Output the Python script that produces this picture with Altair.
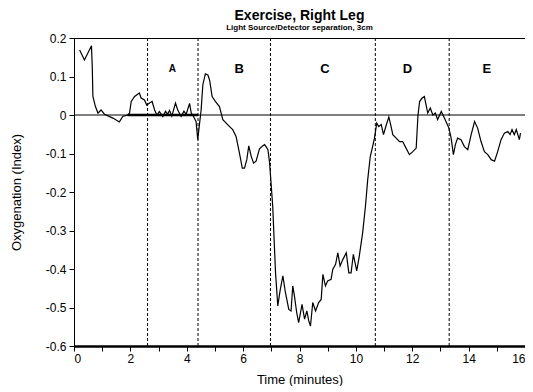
import altair as alt
import pandas as pd

time_min = [0.2, 0.37, 0.62, 0.65, 0.67, 0.76, 0.85, 0.96, 1.08, 1.38, 1.61, 1.73, 1.91, 1.97,
            2.03, 2.15, 2.32, 2.38, 2.50, 2.58, 2.68, 2.77, 2.86, 2.94, 3.03, 3.15, 3.25, 3.32,
            3.39, 3.47, 3.60, 3.68, 3.80, 3.90, 3.98, 4.10, 4.16, 4.21, 4.33, 4.39, 4.45, 4.51,
            4.57, 4.66, 4.75, 4.81, 4.90, 5.02, 5.16, 5.22, 5.28, 5.40, 5.52, 5.63, 5.75, 5.87,
            5.97, 6.05, 6.13, 6.20, 6.29, 6.37, 6.46, 6.58, 6.70, 6.76, 6.82, 6.88, 6.94, 7.05,
            7.15, 7.23, 7.31, 7.41, 7.50, 7.62, 7.70, 7.76, 7.82, 7.90, 7.97, 8.09, 8.18, 8.26,
            8.33, 8.39, 8.47, 8.57, 8.68, 8.77, 8.83, 8.92, 9.00, 9.12, 9.18, 9.28, 9.36, 9.44,
            9.54, 9.66, 9.75, 9.83, 9.91, 10.03, 10.12, 10.24, 10.34, 10.42, 10.51, 10.60, 10.66,
            10.74, 10.81, 10.90, 10.98, 11.07, 11.17, 11.25, 11.31, 11.43, 11.55, 11.66, 11.78,
            11.90, 12.02, 12.14, 12.20, 12.26, 12.35, 12.43, 12.49, 12.55, 12.64, 12.73, 12.82,
            12.90, 13.03, 13.14, 13.22, 13.30, 13.38, 13.46, 13.53, 13.61, 13.73, 13.85, 13.97,
            14.09, 14.21, 14.32, 14.44, 14.56, 14.68, 14.80, 14.92, 15.03, 15.15, 15.27, 15.39,
            15.47, 15.54, 15.62, 15.69, 15.80, 15.84]
oxygenation = [0.169, 0.143, 0.180, 0.120, 0.048, 0.022, 0.005, 0.013, 0.002, -0.008, -0.018, -0.004, 0.000, 0.005,
               0.035, 0.048, 0.057, 0.044, 0.039, 0.026, 0.031, 0.035, 0.013, 0.000, 0.009, -0.004, 0.010, 0.002,
               0.012, -0.003, 0.031, 0.013, -0.004, 0.010, 0.002, 0.030, 0.005, 0.000, -0.017, -0.064, -0.025, 0.013,
               0.078, 0.107, 0.104, 0.091, 0.048, 0.035, 0.022, 0.005, -0.012, -0.021, -0.030, -0.038, -0.056, -0.099,
               -0.138, -0.138, -0.116, -0.080, -0.108, -0.125, -0.120, -0.088, -0.080, -0.077, -0.083, -0.090, -0.125, -0.237,
               -0.410, -0.496, -0.457, -0.418, -0.461, -0.505, -0.509, -0.444, -0.470, -0.513, -0.539, -0.492, -0.530, -0.509,
               -0.535, -0.548, -0.487, -0.509, -0.487, -0.479, -0.414, -0.444, -0.431, -0.427, -0.401, -0.388, -0.358, -0.392,
               -0.375, -0.358, -0.410, -0.410, -0.362, -0.405, -0.367, -0.306, -0.237, -0.168, -0.108, -0.080, -0.060,
               -0.021, -0.030, -0.025, -0.051, -0.028, -0.005, -0.030, -0.051, -0.060, -0.069, -0.069, -0.086,
               -0.103, -0.095, -0.086, -0.004, 0.035, 0.044, 0.048, 0.026, 0.005, 0.018, 0.000, 0.005,
               -0.012, 0.009, -0.008, -0.021, -0.034, -0.060, -0.103, -0.077, -0.060, -0.064, -0.082, -0.090,
               -0.051, -0.017, -0.034, -0.069, -0.095, -0.103, -0.116, -0.120, -0.095, -0.064, -0.047, -0.043,
               -0.051, -0.038, -0.051, -0.038, -0.064, -0.047]

phase_bounds = [2.61, 4.40, 6.97, 10.69, 13.31]
phase_labels = ["A", "B", "C", "D", "E"]
phase_label_t = [3.49, 5.86, 8.90, 11.83, 14.65]
phase_label_y = 0.120

x_ticks = list(range(0, 17))
y_ticks = [-0.6, -0.5, -0.4, -0.3, -0.2, -0.1, 0.0, 0.1, 0.2]

FONT = "Liberation Sans"

df = pd.DataFrame({"t": time_min, "v": oxygenation})
bounds_df = pd.DataFrame({"t": phase_bounds})
labels_df = pd.DataFrame({"t": phase_label_t, "label": phase_labels, "y": [phase_label_y] * 5})

xscale = alt.Scale(domain=[0, 16], nice=False)
yscale = alt.Scale(domain=[-0.6, 0.2], nice=False)

PW, PH = 451, 308

x_axis = alt.Axis(values=x_ticks, labelExpr="datum.value % 2 == 0 ? datum.label : ''",
                  labelOverlap=False,
                  grid=False, domainColor="black", domainWidth=2.5, tickColor="black",
                  tickSize=5, labelColor="black", labelFontSize=12, labelFont=FONT,
                  titleFont=FONT, titleFontSize=13, titleFontWeight="normal",
                  titleColor="black", labelPadding=2, titlePadding=9)
y_axis = alt.Axis(values=y_ticks, format=".1~f", labelOverlap=False,
                  labelExpr="replace(datum.label, '\u2212', '-')",
                  grid=False, domainColor="black", tickColor="black", tickSize=5,
                  labelColor="black", labelFontSize=12, labelFont=FONT,
                  titleFont=FONT, titleFontSize=13, titleFontWeight="normal",
                  titleColor="black", labelPadding=3, titlePadding=22)

X_TITLE = "Time (minutes)"
Y_TITLE = "Oxygenation (Index)"

line = alt.Chart(df).mark_line(color="black", strokeWidth=1.2).encode(
    x=alt.X("t:Q", scale=xscale, title=X_TITLE, axis=x_axis),
    y=alt.Y("v:Q", scale=yscale, title=Y_TITLE, axis=y_axis),
)

zero = alt.Chart(pd.DataFrame({"y": [0.0]})).mark_rule(color="black", strokeWidth=1.2).encode(
    y=alt.Y("y:Q", scale=yscale, title=Y_TITLE, axis=y_axis), x=alt.value(0), x2=alt.value(PW))

thick_zero = alt.Chart(pd.DataFrame({"a": [1.9], "b": [4.4], "y": [0.0]})).mark_rule(
    color="black", strokeWidth=2.5).encode(
    x=alt.X("a:Q", scale=xscale, title=X_TITLE, axis=x_axis), x2="b:Q",
    y=alt.Y("y:Q", scale=yscale, title=Y_TITLE, axis=y_axis))

bounds = alt.Chart(bounds_df).mark_rule(color="black", strokeWidth=1, strokeDash=[3, 2]).encode(
    x=alt.X("t:Q", scale=xscale, title=X_TITLE, axis=x_axis))

labels = alt.Chart(labels_df).mark_text(font=FONT, fontWeight="bold", color="black").encode(
    x=alt.X("t:Q", scale=xscale, title=X_TITLE, axis=x_axis),
    y=alt.Y("y:Q", scale=yscale, title=Y_TITLE, axis=y_axis), text="label:N",
    size=alt.condition(alt.datum.label == "A", alt.value(10), alt.value(13)))

chart = alt.layer(line, bounds, zero, thick_zero, labels).properties(
    width=PW, height=PH,
    autosize=alt.AutoSizeParams(type="none"),
    padding={"left": 66, "top": 30, "right": 0, "bottom": 40},
    title=alt.TitleParams("Exercise, Right Leg",
                          subtitle="Light Source/Detector separation, 3cm",
                          font=FONT, fontSize=14, fontWeight="bold", color="black",
                          subtitleFont=FONT, subtitleFontSize=8, subtitleFontWeight="bold",
                          subtitleColor="black", anchor="middle", offset=0, subtitlePadding=1),
).configure_view(stroke="black", strokeWidth=1)

chart.save("out.html", embed_options={"renderer": "svg", "actions": False})
